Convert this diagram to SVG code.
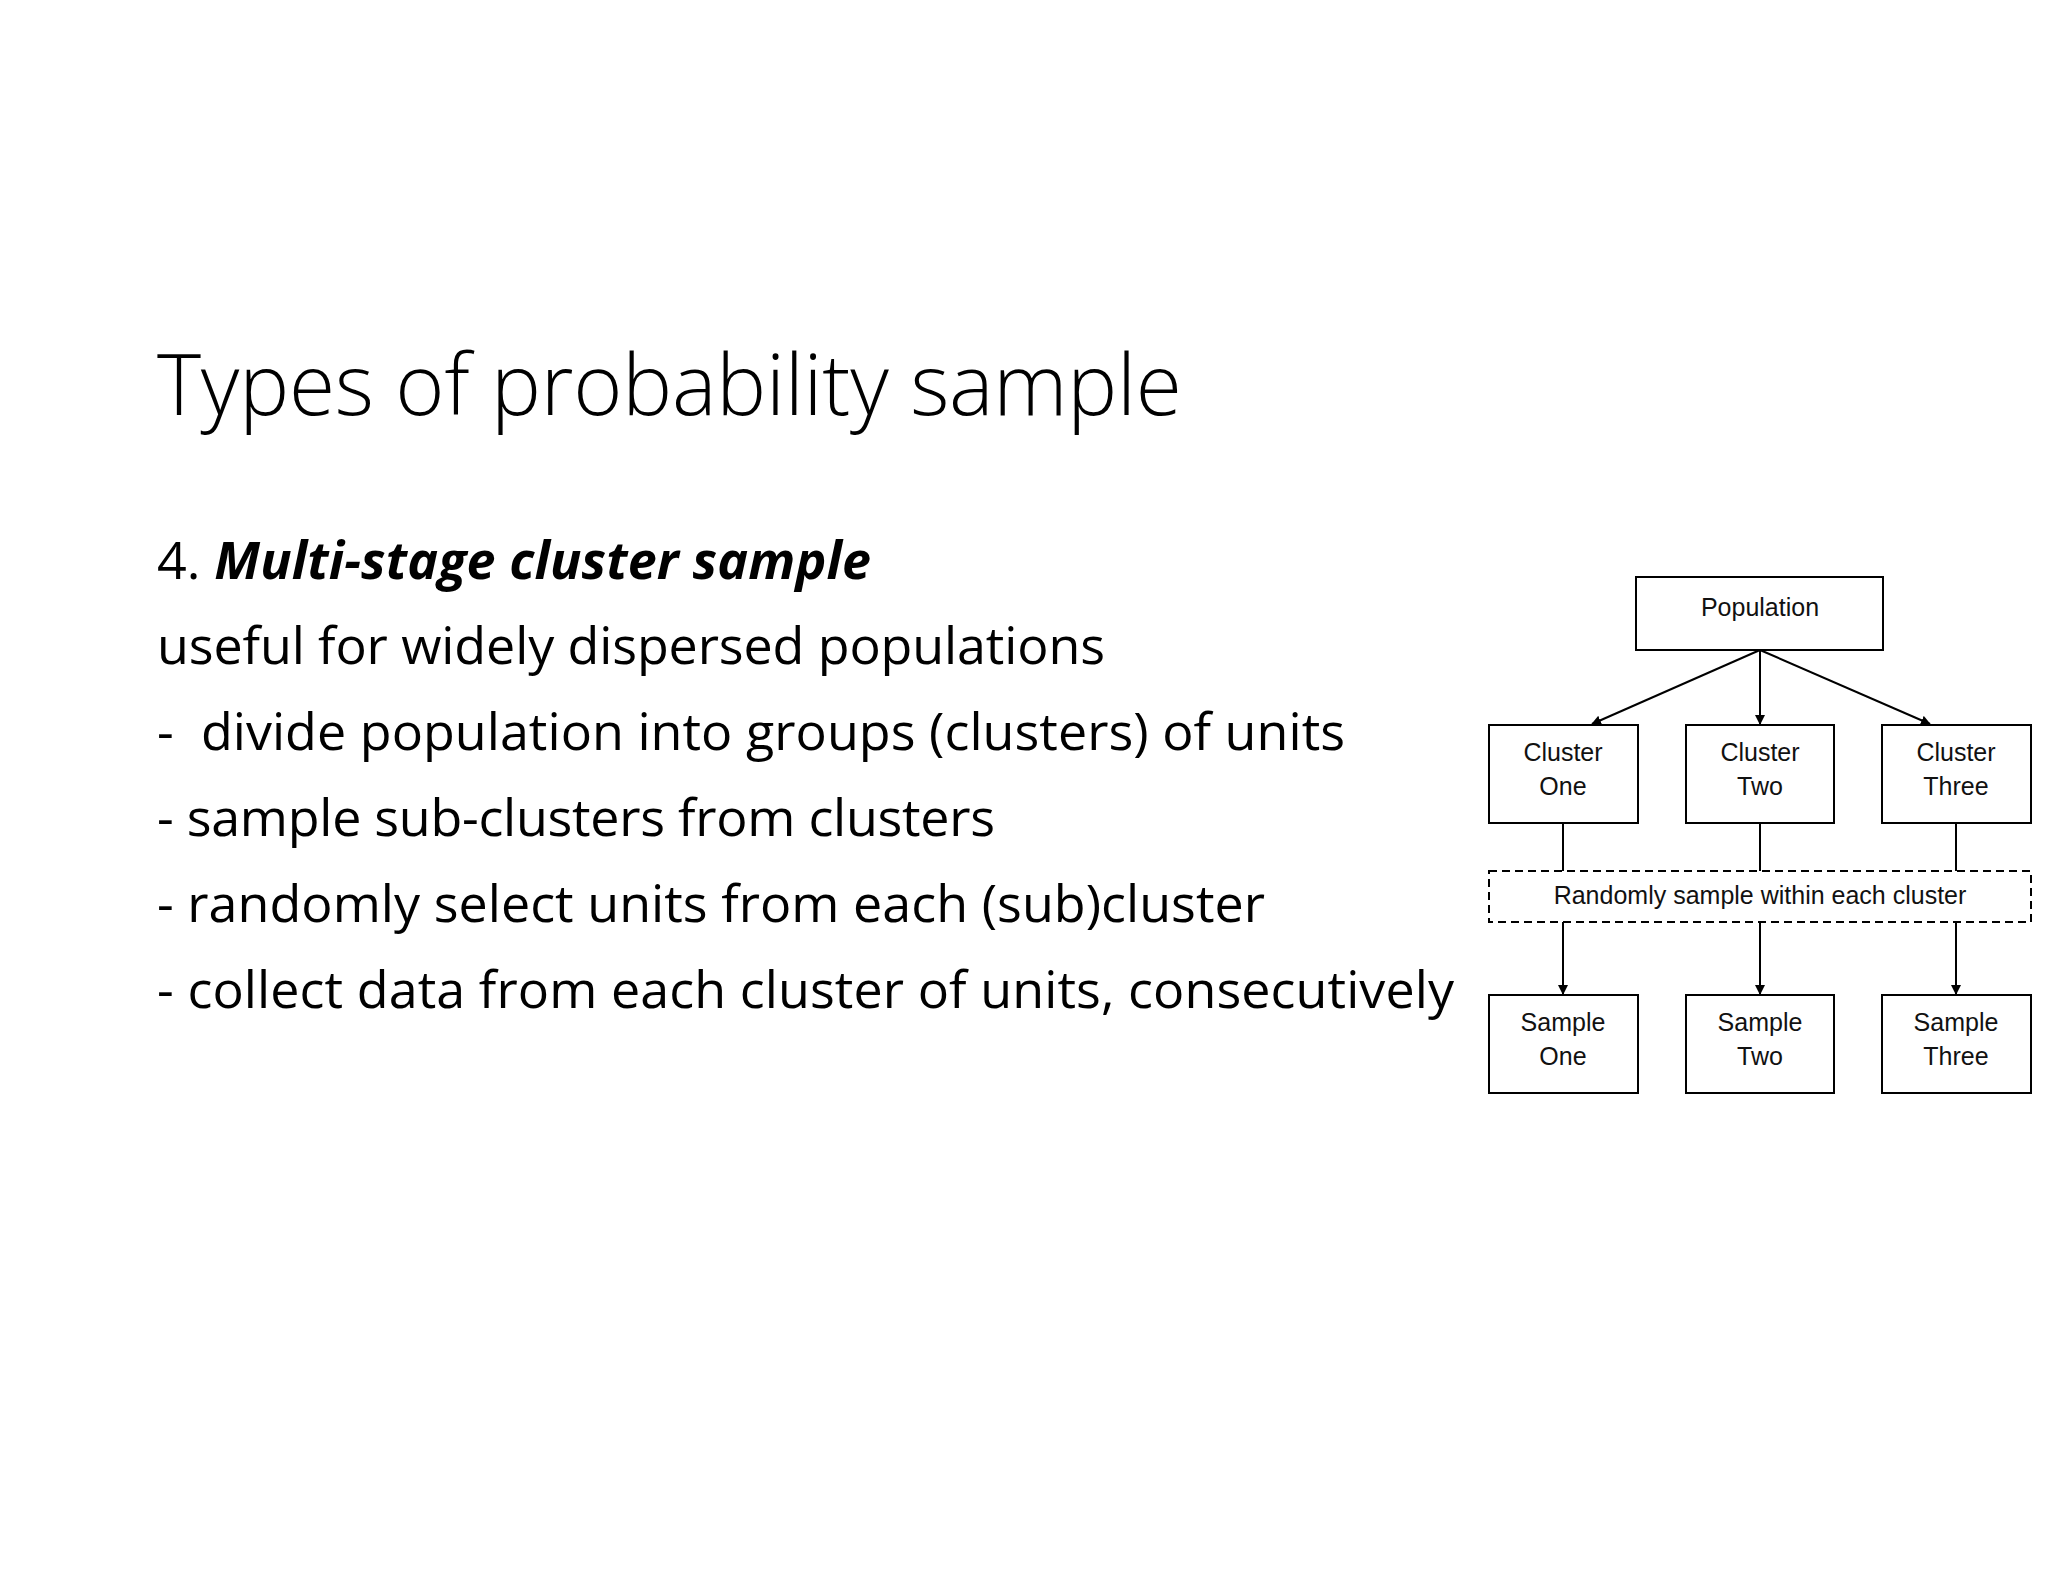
<svg xmlns="http://www.w3.org/2000/svg" width="2048" height="1582" viewBox="0 0 2048 1582">
<style>
.t{font-family:"Open Sans","Liberation Sans",sans-serif;fill:#000}
.n{font-family:"Liberation Sans",Arial,sans-serif;font-size:25px;fill:#111;text-anchor:middle}
.b{fill:#fff;stroke:#000;stroke-width:2}
.c{stroke:#000;stroke-width:2;fill:none}
</style>
<defs><marker id="a" markerWidth="10" markerHeight="10" refX="9" refY="5" orient="auto" markerUnits="userSpaceOnUse" viewBox="0 0 10 10"><path d="M0,0L10,5L0,10z" fill="#000"/></marker></defs>
<rect width="2048" height="1582" fill="#fff"/>
<text class="t" x="157" y="415" font-size="84" font-weight="300" textLength="1025">Types of probability sample</text>
<text class="t" x="157" y="579" font-size="52" textLength="714"><tspan>4. </tspan><tspan font-weight="bold" font-style="italic">Multi-stage cluster sample</tspan></text>
<text class="t" x="157" y="664" font-size="52" textLength="948">useful for widely dispersed populations</text>
<text class="t" x="157" y="750" font-size="52" textLength="1188" xml:space="preserve">-  divide population into groups (clusters) of units</text>
<text class="t" x="157" y="836" font-size="52" textLength="838">- sample sub-clusters from clusters</text>
<text class="t" x="157" y="922" font-size="52" textLength="1108">- randomly select units from each (sub)cluster</text>
<text class="t" x="157" y="1008" font-size="52" textLength="1297">- collect data from each cluster of units, consecutively</text>
<g id="connectors">
<line class="c" x1="1760" y1="650" x2="1592" y2="724" marker-end="url(#a)"/>
<line class="c" x1="1760" y1="650" x2="1760" y2="724" marker-end="url(#a)"/>
<line class="c" x1="1760" y1="650" x2="1930" y2="724" marker-end="url(#a)"/>
<line class="c" x1="1563" y1="823" x2="1563" y2="871"/>
<line class="c" x1="1760" y1="823" x2="1760" y2="871"/>
<line class="c" x1="1956" y1="823" x2="1956" y2="871"/>
<line class="c" x1="1563" y1="922" x2="1563" y2="994" marker-end="url(#a)"/>
<line class="c" x1="1760" y1="922" x2="1760" y2="994" marker-end="url(#a)"/>
<line class="c" x1="1956" y1="922" x2="1956" y2="994" marker-end="url(#a)"/>
</g>
<g id="population"><rect class="b" x="1636" y="577" width="247" height="73"/><text class="n" x="1760" y="616">Population</text></g>
<g id="cluster1"><rect class="b" x="1489" y="725" width="149" height="98"/><text class="n" x="1563" y="761">Cluster</text><text class="n" x="1563" y="795">One</text></g>
<g id="cluster2"><rect class="b" x="1686" y="725" width="148" height="98"/><text class="n" x="1760" y="761">Cluster</text><text class="n" x="1760" y="795">Two</text></g>
<g id="cluster3"><rect class="b" x="1882" y="725" width="149" height="98"/><text class="n" x="1956" y="761">Cluster</text><text class="n" x="1956" y="795">Three</text></g>
<g id="random"><rect class="b" x="1489" y="871" width="542" height="51" stroke-dasharray="8,5"/><text class="n" x="1760" y="904" font-size="23">Randomly sample within each cluster</text></g>
<g id="sample1"><rect class="b" x="1489" y="995" width="149" height="98"/><text class="n" x="1563" y="1031">Sample</text><text class="n" x="1563" y="1065">One</text></g>
<g id="sample2"><rect class="b" x="1686" y="995" width="148" height="98"/><text class="n" x="1760" y="1031">Sample</text><text class="n" x="1760" y="1065">Two</text></g>
<g id="sample3"><rect class="b" x="1882" y="995" width="149" height="98"/><text class="n" x="1956" y="1031">Sample</text><text class="n" x="1956" y="1065">Three</text></g>
</svg>
